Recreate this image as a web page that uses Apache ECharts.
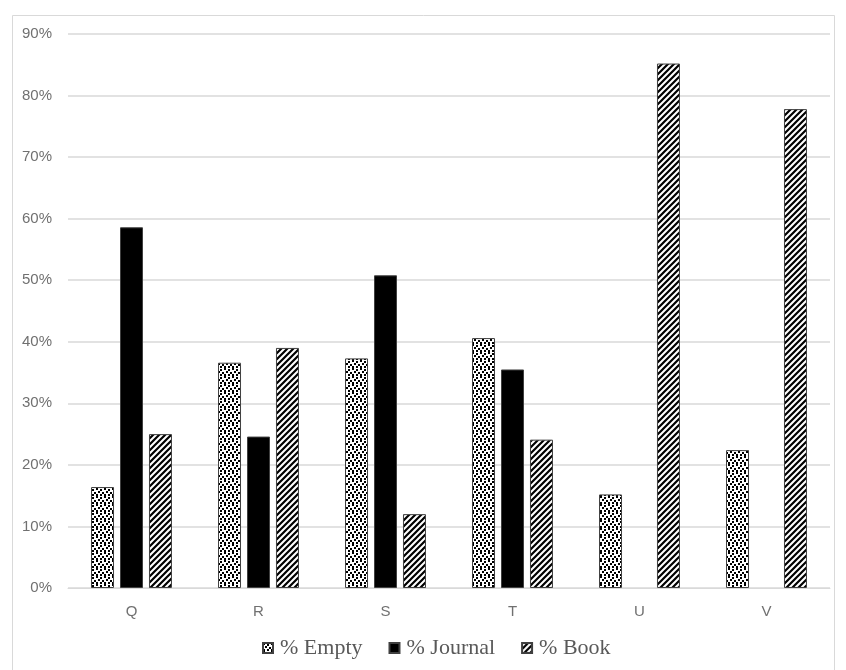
<!DOCTYPE html>
<html>
<head>
<meta charset="utf-8">
<script src="https://cdn.jsdelivr.net/npm/echarts@6/dist/echarts.min.js"></script>
<style>
html,body{margin:0;padding:0;background:#fff;}
#chart{width:846px;height:670px;}
</style>
</head>
<body>
<div id="chart"></div>
<script>
const categories = ['Q', 'R', 'S', 'T', 'U', 'V'];
const emptyValues = [16.4, 36.6, 37.3, 40.6, 15.2, 22.4];
const journalValues = [58.6, 24.6, 50.8, 35.5, null, null];
const bookValues = [25.0, 39.0, 12.0, 24.1, 85.2, 77.8];
const seriesNames = ['% Empty', '% Journal', '% Book'];
const yTicks = [0, 10, 20, 30, 40, 50, 60, 70, 80, 90];

function dotPattern() {
  const c = document.createElement('canvas');
  c.width = 8; c.height = 8;
  const g = c.getContext('2d');
  g.fillStyle = '#ffffff'; g.fillRect(0, 0, 8, 8);
  g.fillStyle = '#000000';
  [[0,0],[4,1],[2,3],[6,4],[0,6],[4,6]].forEach(p => g.fillRect(p[0], p[1], 2, 2));
  return c;
}
function hatchPattern() {
  const c = document.createElement('canvas');
  c.width = 6; c.height = 6;
  const g = c.getContext('2d');
  g.fillStyle = '#ffffff'; g.fillRect(0, 0, 6, 6);
  g.strokeStyle = '#000000'; g.lineWidth = 2.2;
  g.beginPath();
  g.moveTo(-1, 7); g.lineTo(7, -1);
  g.moveTo(-4, 4); g.lineTo(4, -4);
  g.moveTo(2, 10); g.lineTo(10, 2);
  g.stroke();
  return c;
}

const chart = echarts.init(document.getElementById('chart'), null, {renderer: 'canvas'});
const border = {borderColor: '#404040', borderWidth: 1};
chart.setOption({
  animation: false,
  backgroundColor: '#ffffff',
  graphic: [{
    type: 'rect', left: 10, top: 13,
    shape: {width: 822, height: 655},
    style: {fill: 'none', stroke: '#d9d9d9', lineWidth: 1},
    silent: true, z: -1
  }],
  grid: {left: 68, right: 16, top: 34, bottom: 82, containLabel: false},
  legend: {
    bottom: 6, left: 257, icon: 'rect',
    itemWidth: 10, itemHeight: 10, itemGap: 26,
    textStyle: {fontFamily: 'Liberation Serif', fontSize: 22, color: '#595959', padding: [0, 0, 0, 2]},
    data: seriesNames
  },
  xAxis: {
    type: 'category', data: categories,
    axisLine: {lineStyle: {color: '#d9d9d9', width: 1}},
    axisTick: {show: false},
    axisLabel: {color: '#707070', fontSize: 15, fontFamily: 'Liberation Sans', margin: 16}
  },
  yAxis: {
    type: 'value', min: yTicks[0], max: yTicks[yTicks.length - 1], interval: 10,
    axisLine: {show: false}, axisTick: {show: false},
    splitLine: {lineStyle: {color: '#d9d9d9', width: 1.5}},
    axisLabel: {color: '#707070', fontSize: 15, fontFamily: 'Liberation Sans', margin: 16, formatter: '{value}%'}
  },
  series: [
    {name: seriesNames[0], type: 'bar', data: emptyValues, barWidth: 23, barGap: '26%',
     itemStyle: Object.assign({color: {image: dotPattern(), repeat: 'repeat'}}, border)},
    {name: seriesNames[1], type: 'bar', data: journalValues, barWidth: 23, barGap: '26%',
     itemStyle: Object.assign({color: '#000000'}, border)},
    {name: seriesNames[2], type: 'bar', data: bookValues, barWidth: 23, barGap: '26%',
     itemStyle: Object.assign({color: {image: hatchPattern(), repeat: 'repeat'}}, border)}
  ]
});
</script>
</body>
</html>
